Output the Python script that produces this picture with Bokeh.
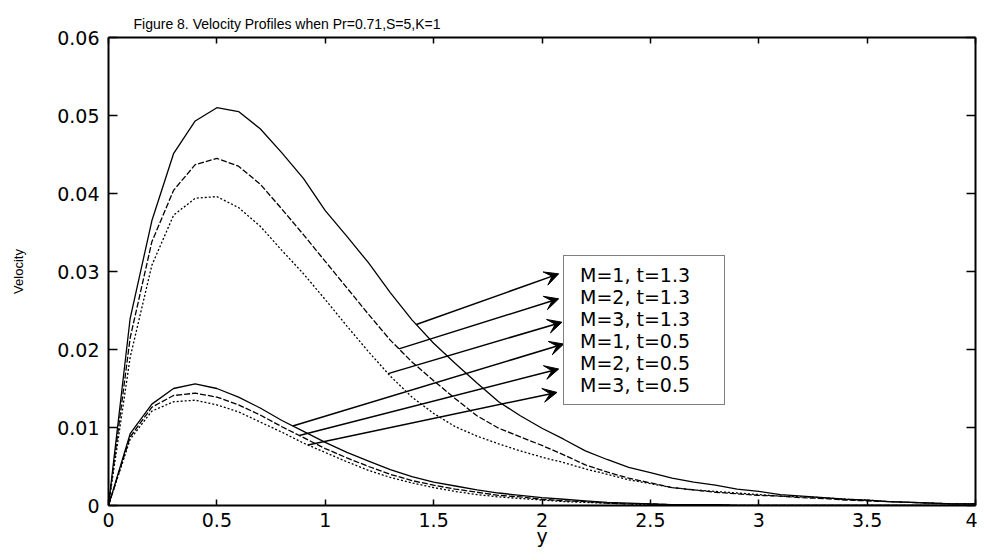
import numpy as np
from bokeh.plotting import figure
from bokeh.models import (LinearAxis, Range1d, Legend, LegendItem, Arrow,
                          VeeHead, FixedTicker)
from bokeh.embed import file_html
from bokeh.resources import INLINE

# ---------------- data ----------------
y_coord = [0.0, 0.1, 0.2, 0.3, 0.4, 0.5, 0.6, 0.7, 0.8, 0.9,
           1.0, 1.1, 1.2, 1.3, 1.4, 1.5, 1.6, 1.7, 1.8, 1.9,
           2.0, 2.1, 2.2, 2.3, 2.4, 2.5, 2.6, 2.7, 2.8, 2.9,
           3.0, 3.1, 3.2, 3.3, 3.4, 3.5, 3.6, 3.7, 3.8, 3.9, 4.0]

vel_m1_t13 = [0, 0.0240, 0.0365, 0.0451, 0.0493, 0.0510, 0.0505, 0.0483, 0.0452, 0.0419,
              0.0378, 0.0345, 0.0311, 0.0273, 0.0238, 0.0208, 0.0182, 0.0157, 0.0133, 0.0115,
              0.0099, 0.0085, 0.0070, 0.0059, 0.0049, 0.0042, 0.0035, 0.0030, 0.0026, 0.0021,
              0.0018, 0.0014, 0.0012, 0.0010, 0.0008, 0.0007, 0.0005, 0.0004, 0.0003, 0.0002, 0.0002]
vel_m2_t13 = [0, 0.0215, 0.0338, 0.0404, 0.0437, 0.0445, 0.0435, 0.0412, 0.0380, 0.0347,
              0.0313, 0.0279, 0.0245, 0.0212, 0.0184, 0.0160, 0.0137, 0.0115, 0.0099, 0.0088,
              0.0077, 0.0065, 0.0052, 0.0043, 0.0035, 0.0029, 0.0023, 0.0020, 0.0017, 0.0015,
              0.0013, 0.0012, 0.0010, 0.0009, 0.0007, 0.0006, 0.0005, 0.0004, 0.0003, 0.0002, 0.0002]
vel_m3_t13 = [0, 0.0190, 0.0308, 0.0372, 0.0394, 0.0396, 0.0382, 0.0358, 0.0327, 0.0297,
              0.0264, 0.0230, 0.0197, 0.0166, 0.0139, 0.0118, 0.0101, 0.0089, 0.0079, 0.0070,
              0.0062, 0.0055, 0.0047, 0.0040, 0.0033, 0.0028, 0.0023, 0.0020, 0.0018, 0.0016,
              0.0014, 0.0012, 0.0011, 0.0010, 0.0008, 0.0007, 0.0005, 0.0004, 0.0003, 0.0002, 0.0002]
vel_m1_t05 = [0, 0.0092, 0.0130, 0.0150, 0.0156, 0.0150, 0.0139, 0.0125, 0.0109, 0.0095,
              0.0081, 0.0068, 0.0057, 0.0046, 0.0037, 0.0030, 0.0025, 0.0020, 0.0016, 0.0013,
              0.0010, 0.0008, 0.0006, 0.0004, 0.0003, 0.0002, 0.0001, 0.0001, 0.0001, 0,
              0, 0, 0, 0, 0, 0, 0, 0, 0, 0, 0]
vel_m2_t05 = [0, 0.0088, 0.0126, 0.0141, 0.0144, 0.0139, 0.0129, 0.0116, 0.0101, 0.0087,
              0.0073, 0.0061, 0.0050, 0.0040, 0.0032, 0.0026, 0.0021, 0.0017, 0.0013, 0.0011,
              0.0008, 0.0006, 0.0005, 0.0003, 0.0002, 0.0002, 0.0001, 0.0001, 0.0001, 0,
              0, 0, 0, 0, 0, 0, 0, 0, 0, 0, 0]
vel_m3_t05 = [0, 0.0085, 0.0121, 0.0133, 0.0135, 0.0129, 0.0120, 0.0107, 0.0094, 0.0080,
              0.0068, 0.0056, 0.0045, 0.0036, 0.0029, 0.0023, 0.0018, 0.0014, 0.0011, 0.0009,
              0.0007, 0.0005, 0.0004, 0.0003, 0.0002, 0.0001, 0.0001, 0.0001, 0.0001, 0,
              0, 0, 0, 0, 0, 0, 0, 0, 0, 0, 0]

series_labels = ["M=1, t=1.3", "M=2, t=1.3", "M=3, t=1.3",
                 "M=1, t=0.5", "M=2, t=0.5", "M=3, t=0.5"]

x_ticks = [0, 0.5, 1, 1.5, 2, 2.5, 3, 3.5, 4]
x_tick_labels = ["0", "0.5", "1", "1.5", "2", "2.5", "3", "3.5", "4"]
y_ticks = [0, 0.01, 0.02, 0.03, 0.04, 0.05, 0.06]
y_tick_labels = ["0", "0.01", "0.02", "0.03", "0.04", "0.05", "0.06"]

# arrows: start on a curve (x given), tip at the legend box
arrow_start_x = [1.42, 1.34, 1.29, 0.85, 0.88, 0.92]
arrow_tip_x = [2.077, 2.077, 2.092, 2.100, 2.077, 2.069]
arrow_tip_y = [0.0297, 0.0265, 0.0235, 0.0207, 0.0175, 0.0145]

# ---------------- figure ----------------
TICK_FONT = "DejaVu Sans"
TEXT_FONT = "Liberation Sans"
p = figure(width=977, height=552, output_backend="svg", toolbar_location=None,
           x_range=Range1d(0, 4), y_range=Range1d(0, 0.06),
           min_border_left=108, min_border_right=2, min_border_top=37, min_border_bottom=47,
           background_fill_color="white", border_fill_color="white")
p.outline_line_color = None
p.xgrid.visible = False
p.ygrid.visible = False

p.title.text = "Figure 8. Velocity Profiles when Pr=0.71,S=5,K=1"
p.title.text_font = TEXT_FONT
p.title.text_font_size = "14px"
p.title.text_font_style = "normal"
p.title.text_color = "black"
p.title.align = "left"
p.title.offset = 25
p.title.standoff = 11


def style_axis(ax, ticks, labels, tick_len, show_labels=True):
    ax.ticker = FixedTicker(ticks=ticks)
    ax.major_tick_in = tick_len
    ax.major_tick_out = 0
    ax.minor_tick_in = 0
    ax.minor_tick_out = 0
    ax.axis_line_width = 2
    ax.axis_line_color = "black"
    ax.major_tick_line_width = 1.5
    ax.major_tick_line_color = "black"
    if show_labels:
        ax.major_label_overrides = {t: l for t, l in zip(ticks, labels)}
        ax.major_label_text_font = TICK_FONT
        ax.major_label_text_font_size = "19px"
        ax.major_label_text_color = "black"
    else:
        ax.major_label_text_font_size = "1px"
        ax.major_label_text_color = None
        ax.major_label_standoff = 0


xb = p.xaxis[0]
yl = p.yaxis[0]
style_axis(xb, x_ticks, x_tick_labels, 6)
style_axis(yl, y_ticks, y_tick_labels, 9)
xb.major_label_standoff = 7
xb.axis_label = "y"
xb.axis_label_text_font = TICK_FONT
xb.axis_label_text_font_size = "19px"
xb.axis_label_text_font_style = "normal"
xb.axis_label_text_color = "black"
xb.axis_label_standoff = -5
yl.major_label_standoff = 9
yl.axis_label = "Velocity"
yl.axis_label_text_font = TEXT_FONT
yl.axis_label_text_font_size = "13px"
yl.axis_label_text_font_style = "normal"
yl.axis_label_text_color = "black"
yl.axis_label_standoff = 28

top_ax = LinearAxis()
style_axis(top_ax, x_ticks, x_tick_labels, 6, show_labels=False)
p.add_layout(top_ax, "above")
right_ax = LinearAxis()
style_axis(right_ax, y_ticks, y_tick_labels, 9, show_labels=False)
p.add_layout(right_ax, "right")

# ---------------- curves ----------------
all_series = [vel_m1_t13, vel_m2_t13, vel_m3_t13, vel_m1_t05, vel_m2_t05, vel_m3_t05]
dashes = ["solid", "6 2", "2 2", "solid", "6 2", "2 2"]
renderers = []
for vals, dash in zip(all_series, dashes):
    r = p.line(y_coord, vals, line_color="black", line_width=1.3, line_dash=dash)
    renderers.append(r)

# ---------------- arrows ----------------
for sx, vals, tx, ty in zip(arrow_start_x, all_series, arrow_tip_x, arrow_tip_y):
    sy = float(np.interp(sx, y_coord, vals))
    p.add_layout(Arrow(x_start=sx, y_start=sy, x_end=tx, y_end=ty,
                       line_color="black", line_width=1.5,
                       end=VeeHead(size=14, fill_color="black", line_color="black",
                                   line_width=1)))

# ---------------- legend (text box) ----------------
legend = Legend(items=[LegendItem(label=lab, renderers=[r])
                       for lab, r in zip(series_labels, renderers)],
                location=(455, 100), orientation="vertical",
                glyph_width=0, glyph_height=21, label_height=21, label_width=136,
                label_standoff=8, padding=8, spacing=0, margin=0,
                label_text_font=TICK_FONT, label_text_font_size="19px",
                label_text_color="black",
                border_line_color="black", border_line_width=1.5,
                background_fill_color="white", background_fill_alpha=1.0)
p.add_layout(legend, "center")

open("out.html", "w").write(file_html(p, INLINE))
